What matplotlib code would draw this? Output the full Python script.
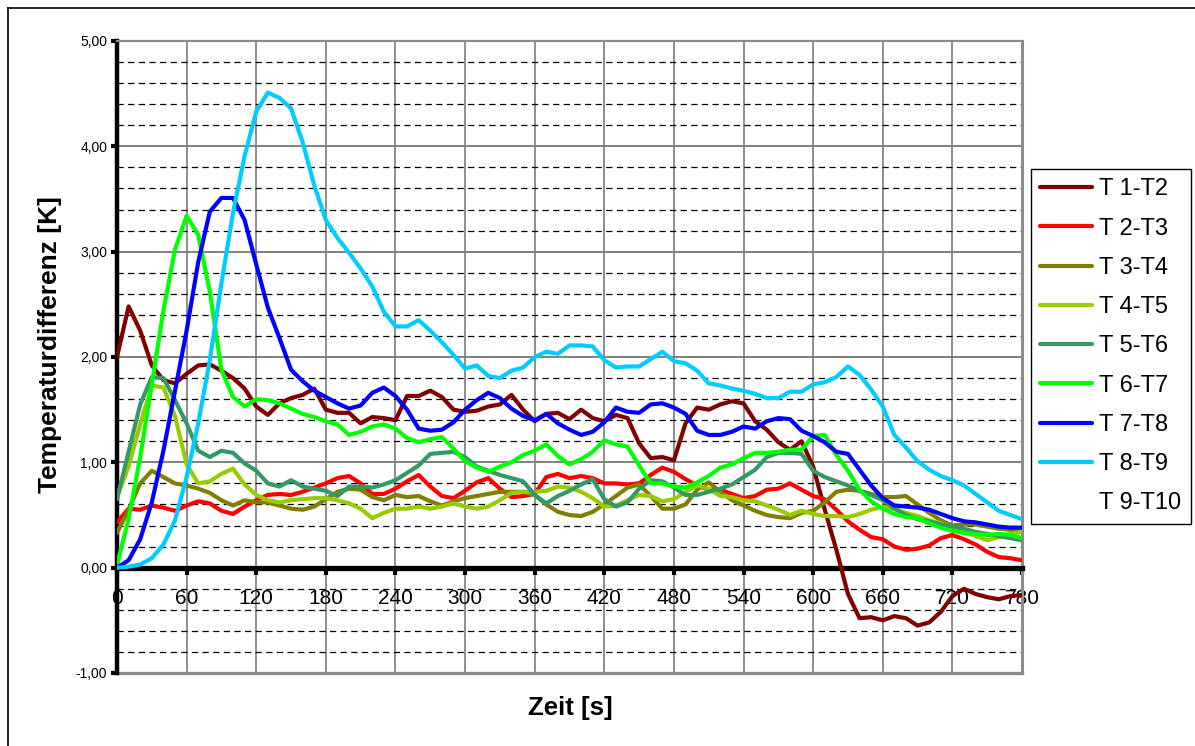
import matplotlib
matplotlib.use("Agg")
import matplotlib.pyplot as plt
from matplotlib.lines import Line2D
from matplotlib.ticker import FuncFormatter, MultipleLocator

plt.rcParams["font.family"] = ["Liberation Sans", "DejaVu Sans"]

# Time axis in seconds (one sample every 10 s)
time_s = list(range(0, 790, 10))

t1_t2 = [2.00, 2.48, 2.25, 1.92, 1.78, 1.75, 1.84, 1.92, 1.93, 1.87,
         1.80, 1.70, 1.53, 1.45, 1.56, 1.61, 1.64, 1.70, 1.50, 1.47,
         1.47, 1.37, 1.43, 1.42, 1.40, 1.63, 1.63, 1.68, 1.62, 1.50,
         1.48, 1.49, 1.53, 1.55, 1.64, 1.50, 1.39, 1.46, 1.47, 1.41,
         1.50, 1.42, 1.39, 1.45, 1.42, 1.18, 1.04, 1.05, 1.02, 1.37,
         1.52, 1.50, 1.55, 1.58, 1.56, 1.39, 1.31, 1.19, 1.12, 1.20,
         0.96, 0.55, 0.17, -0.25, -0.48, -0.47, -0.50, -0.46, -0.48, -0.55,
         -0.52, -0.42, -0.27, -0.20, -0.25, -0.28, -0.30, -0.27, -0.26]

t2_t3 = [0.43, 0.56, 0.55, 0.59, 0.57, 0.54, 0.59, 0.63, 0.61, 0.54,
         0.51, 0.58, 0.64, 0.69, 0.70, 0.69, 0.72, 0.76, 0.80, 0.85,
         0.87, 0.80, 0.70, 0.70, 0.75, 0.82, 0.88, 0.77, 0.68, 0.66,
         0.73, 0.81, 0.85, 0.75, 0.67, 0.68, 0.70, 0.86, 0.89, 0.85,
         0.87, 0.85, 0.80, 0.80, 0.79, 0.80, 0.88, 0.95, 0.91, 0.84,
         0.78, 0.74, 0.74, 0.70, 0.66, 0.68, 0.74, 0.75, 0.80, 0.74,
         0.68, 0.65, 0.55, 0.44, 0.36, 0.29, 0.27, 0.20, 0.17, 0.18,
         0.21, 0.28, 0.31, 0.27, 0.22, 0.15, 0.10, 0.09, 0.07]

t3_t4 = [0.33, 0.55, 0.80, 0.92, 0.86, 0.80, 0.78, 0.75, 0.71, 0.64,
         0.59, 0.64, 0.62, 0.62, 0.59, 0.56, 0.55, 0.58, 0.65, 0.72,
         0.75, 0.74, 0.67, 0.64, 0.69, 0.67, 0.68, 0.63, 0.59, 0.63,
         0.66, 0.68, 0.70, 0.72, 0.72, 0.72, 0.69, 0.60, 0.53, 0.50,
         0.49, 0.53, 0.60, 0.68, 0.76, 0.79, 0.68, 0.56, 0.56, 0.60,
         0.74, 0.81, 0.72, 0.64, 0.59, 0.54, 0.50, 0.48, 0.47, 0.52,
         0.54, 0.62, 0.72, 0.74, 0.73, 0.70, 0.67, 0.67, 0.68, 0.60,
         0.52, 0.45, 0.40, 0.41, 0.41, 0.39, 0.37, 0.36, 0.34]

t4_t5 = [0.67, 0.96, 1.36, 1.73, 1.71, 1.44, 0.98, 0.80, 0.82, 0.89,
         0.94, 0.79, 0.69, 0.64, 0.62, 0.64, 0.65, 0.66, 0.66, 0.64,
         0.61, 0.56, 0.47, 0.52, 0.56, 0.56, 0.58, 0.56, 0.58, 0.61,
         0.58, 0.56, 0.58, 0.64, 0.71, 0.72, 0.72, 0.73, 0.77, 0.76,
         0.72, 0.66, 0.58, 0.59, 0.64, 0.69, 0.68, 0.63, 0.65, 0.72,
         0.78, 0.75, 0.68, 0.67, 0.64, 0.63, 0.59, 0.55, 0.50, 0.54,
         0.51, 0.49, 0.49, 0.48, 0.51, 0.55, 0.58, 0.56, 0.52, 0.49,
         0.45, 0.42, 0.38, 0.34, 0.30, 0.26, 0.29, 0.32, 0.34]

t5_t6 = [0.65, 1.10, 1.55, 1.81, 1.80, 1.59, 1.37, 1.11, 1.05, 1.11,
         1.09, 0.99, 0.92, 0.80, 0.77, 0.83, 0.77, 0.75, 0.73, 0.68,
         0.77, 0.77, 0.76, 0.79, 0.83, 0.90, 0.97, 1.08, 1.09, 1.10,
         1.05, 0.96, 0.92, 0.88, 0.85, 0.82, 0.69, 0.61, 0.68, 0.73,
         0.79, 0.84, 0.65, 0.58, 0.62, 0.75, 0.83, 0.82, 0.76, 0.69,
         0.69, 0.72, 0.75, 0.79, 0.86, 0.93, 1.05, 1.09, 1.09, 1.08,
         0.92, 0.86, 0.82, 0.78, 0.73, 0.69, 0.64, 0.56, 0.50, 0.46,
         0.44, 0.41, 0.39, 0.37, 0.34, 0.32, 0.30, 0.28, 0.26]

t6_t7 = [0.03, 0.46, 1.05, 1.74, 2.44, 3.02, 3.34, 3.16, 2.62, 1.88,
         1.62, 1.53, 1.60, 1.59, 1.56, 1.51, 1.46, 1.43, 1.39, 1.36,
         1.26, 1.29, 1.34, 1.36, 1.32, 1.23, 1.19, 1.22, 1.24, 1.13,
         1.01, 0.95, 0.91, 0.96, 1.00, 1.07, 1.11, 1.17, 1.06, 0.98,
         1.03, 1.10, 1.21, 1.17, 1.15, 0.97, 0.80, 0.80, 0.77, 0.76,
         0.81, 0.87, 0.95, 0.98, 1.04, 1.09, 1.09, 1.10, 1.12, 1.12,
         1.25, 1.26, 1.07, 0.92, 0.74, 0.63, 0.56, 0.51, 0.48, 0.47,
         0.42, 0.38, 0.35, 0.33, 0.32, 0.31, 0.32, 0.31, 0.28]

t7_t8 = [0.00, 0.07, 0.27, 0.62, 1.11, 1.68, 2.25, 2.90, 3.38, 3.51,
         3.51, 3.30, 2.88, 2.47, 2.18, 1.88, 1.77, 1.68, 1.62, 1.56,
         1.51, 1.54, 1.66, 1.71, 1.63, 1.50, 1.32, 1.30, 1.31, 1.38,
         1.50, 1.59, 1.66, 1.61, 1.51, 1.44, 1.40, 1.46, 1.37, 1.31,
         1.26, 1.29, 1.38, 1.52, 1.48, 1.47, 1.55, 1.56, 1.52, 1.46,
         1.30, 1.26, 1.26, 1.29, 1.34, 1.32, 1.39, 1.42, 1.41, 1.30,
         1.25, 1.19, 1.10, 1.08, 0.93, 0.78, 0.66, 0.59, 0.58, 0.57,
         0.55, 0.51, 0.47, 0.44, 0.43, 0.41, 0.39, 0.38, 0.38]

t8_t9 = [0.00, 0.01, 0.03, 0.09, 0.22, 0.45, 0.86, 1.37, 1.97, 2.70,
         3.37, 3.91, 4.33, 4.51, 4.46, 4.36, 4.04, 3.63, 3.30, 3.13,
         2.99, 2.84, 2.67, 2.43, 2.29, 2.29, 2.35, 2.25, 2.14, 2.02,
         1.89, 1.92, 1.82, 1.80, 1.87, 1.90, 2.00, 2.05, 2.03, 2.11,
         2.11, 2.10, 1.97, 1.90, 1.91, 1.91, 1.98, 2.05, 1.96, 1.94,
         1.87, 1.75, 1.73, 1.70, 1.68, 1.65, 1.61, 1.61, 1.67, 1.67,
         1.74, 1.76, 1.81, 1.91, 1.83, 1.69, 1.53, 1.26, 1.14, 1.01,
         0.93, 0.87, 0.83, 0.78, 0.70, 0.62, 0.54, 0.50, 0.46]

series_labels = ["T 1-T2", "T 2-T3", "T 3-T4", "T 4-T5", "T 5-T6",
                 "T 6-T7", "T 7-T8", "T 8-T9"]
series_colors = ["#800000", "#FF0000", "#808000", "#99CC00", "#339966",
                 "#00FF00", "#0000FF", "#00CCFF"]
series_values = [t1_t2, t2_t3, t3_t4, t4_t5, t5_t6, t6_t7, t7_t8, t8_t9]
empty_label = "T 9-T10"

x_ticks = list(range(0, 781, 60))

W, H = 1195, 746
fig = plt.figure(figsize=(W / 100, H / 100), dpi=100)
ax_l, ax_r, ax_t, ax_b = 117, 1022, 41, 673
ax = fig.add_axes([ax_l / W, 1 - ax_b / H, (ax_r - ax_l) / W, (ax_b - ax_t) / H])

# Grid: solid verticals every minute, solid horizontals per kelvin, dashed every 0.2 K
ax.set_xlim(0, 780)
ax.set_ylim(-1, 5)
ax.set_xticks(x_ticks)
ax.yaxis.set_major_locator(MultipleLocator(1))
ax.yaxis.set_minor_locator(MultipleLocator(0.2))
ax.grid(which="major", axis="x", color="#707070", lw=1.1)
ax.grid(which="major", axis="y", color="#808080", lw=1.4)
ax.grid(which="minor", axis="y", color="black", lw=0.9, linestyle=(0, (5, 3.5)))
ax.set_axisbelow(True)

for vals, col, lab in zip(series_values, series_colors, series_labels):
    ax.plot(time_s, vals, color=col, lw=3.0, label=lab, solid_capstyle="round",
            solid_joinstyle="round", zorder=3)
ax.plot([], [], color="none", lw=3.0, label=empty_label)

# Axis frame: thick black zero line and y axis, gray outer border
for side in ("top", "right"):
    ax.spines[side].set_color("#8c8c8c")
    ax.spines[side].set_linewidth(1.6)
ax.spines["right"].set_linewidth(2.2)
ax.spines["bottom"].set_position(("data", 0))
ax.spines["bottom"].set_color("black")
ax.spines["bottom"].set_linewidth(3.8)
ax.spines["bottom"].set_zorder(2.6)
ax.spines["left"].set_color("black")
ax.spines["left"].set_linewidth(3.2)
ax.axhline(-1, color="#8c8c8c", lw=2.4, zorder=2.5, clip_on=False)

ax.yaxis.set_major_formatter(FuncFormatter(lambda v, p: f"{v:.2f}".replace(".", ",")))
ax.tick_params(axis="y", which="major", length=4, width=3, pad=3, labelsize=10)
ax.tick_params(axis="y", which="minor", length=0)
ax.tick_params(axis="x", which="major", direction="out", length=5, width=3,
               pad=10, labelsize=15)

fig.text(570 / W, 1 - 708 / H, "Zeit [s]", ha="center", va="center",
         fontsize=18.5, fontweight="bold")
fig.text(50 / W, 1 - 345 / H, "Temperaturdifferenz [K]", ha="center", va="center",
         rotation=90, fontsize=19, fontweight="bold")

leg = ax.legend(loc="upper left", bbox_to_anchor=(1031 / W, 1 - 169 / H),
                bbox_transform=fig.transFigure, frameon=True, fancybox=False,
                edgecolor="black", framealpha=1, borderaxespad=0, fontsize=17,
                handlelength=2.2, handletextpad=0.3, labelspacing=0.73,
                borderpad=0.4)
leg.get_frame().set_linewidth(1.0)

# Outer chart frame (left and top edges)
fig.add_artist(Line2D([8 / W, 8 / W], [0, 1 - 8 / H], transform=fig.transFigure,
                      color="black", lw=1.2))
fig.add_artist(Line2D([8 / W, 1], [1 - 8 / H, 1 - 8 / H], transform=fig.transFigure,
                      color="black", lw=1.2))

fig.savefig("out.png", dpi=100, facecolor="white")
